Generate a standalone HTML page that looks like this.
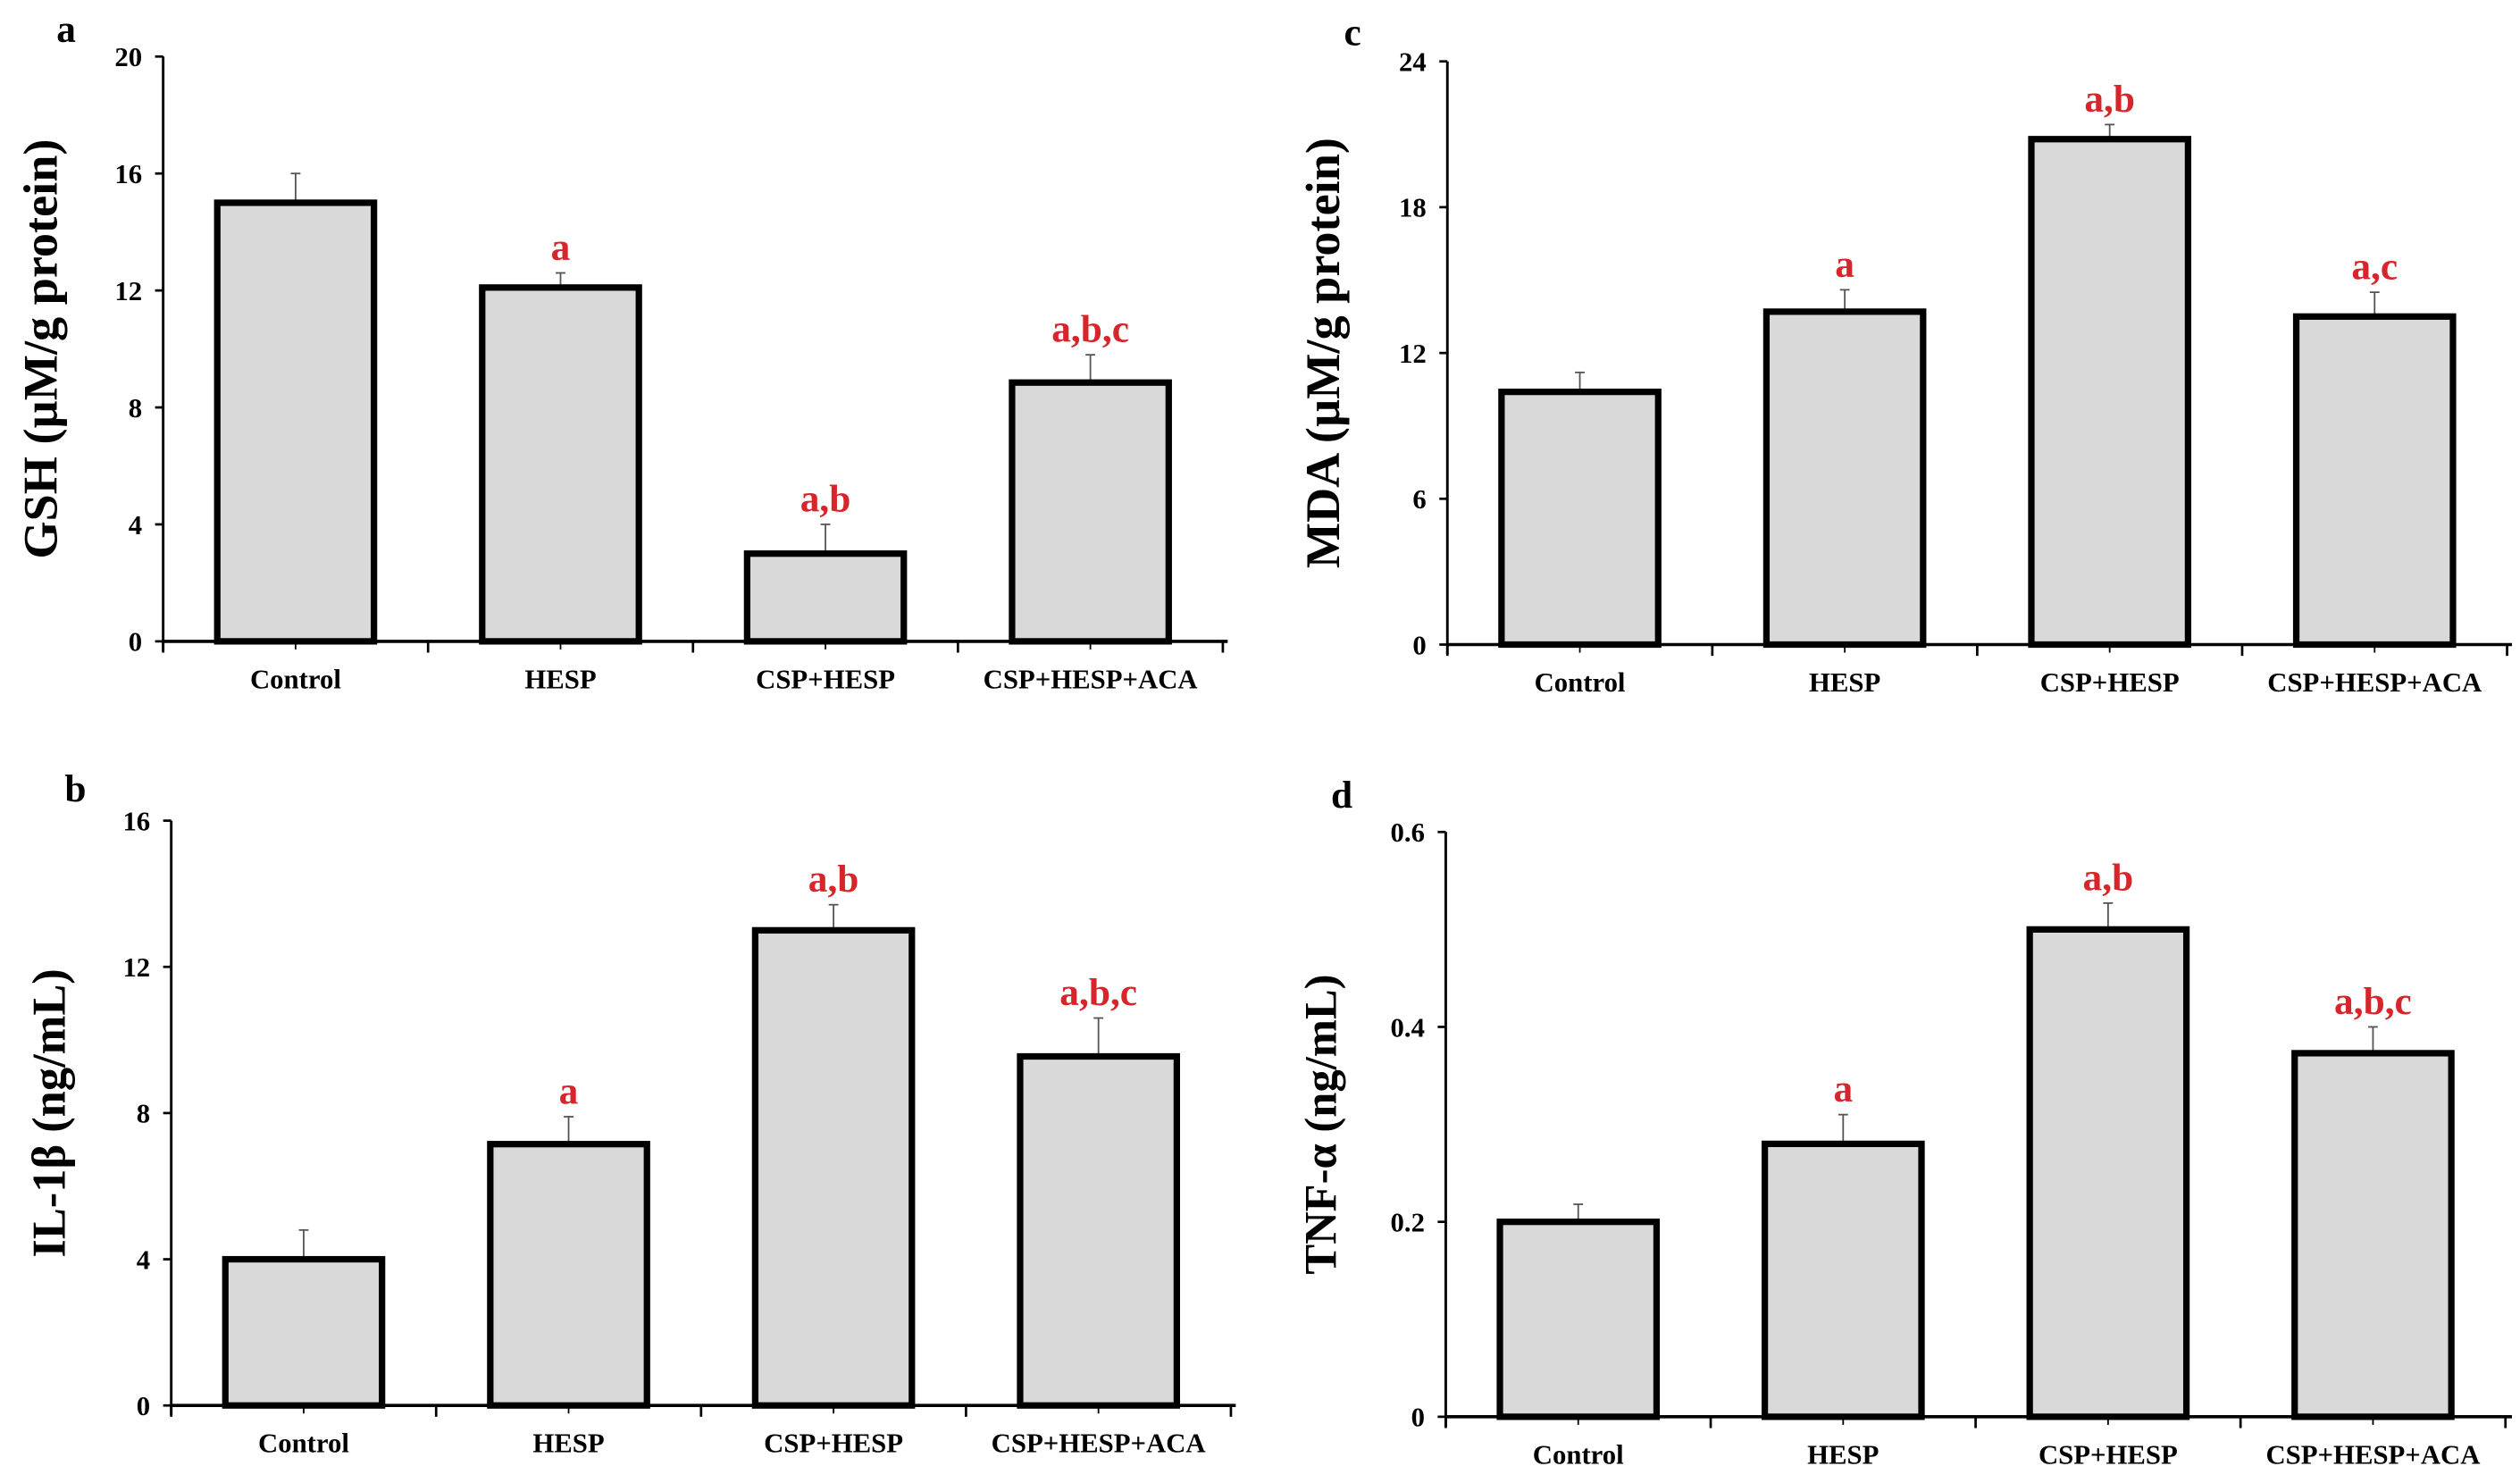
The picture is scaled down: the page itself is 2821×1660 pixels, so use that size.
<!DOCTYPE html>
<html><head><meta charset="utf-8"><style>html,body{margin:0;padding:0;background:#fff}svg{display:block}</style></head>
<body>
<svg id="fig" width="2821" height="1660" viewBox="0 0 1560 918" preserveAspectRatio="none" xmlns="http://www.w3.org/2000/svg" font-family="Liberation Serif, serif" font-weight="bold"></svg>
<script>
const categories = ["Control","HESP","CSP+HESP","CSP+HESP+ACA"];
const gshValues = [15, 12.1, 3, 8.85];
const gshErrors = [1.0, 0.5, 1.0, 0.95];
const gshSig = ["", "a", "a,b", "a,b,c"];
const il1bValues = [4, 7.15, 13, 9.55];
const il1bErrors = [0.8, 0.75, 0.7, 1.05];
const il1bSig = ["", "a", "a,b", "a,b,c"];
const mdaValues = [10.4, 13.7, 20.8, 13.5];
const mdaErrors = [0.8, 0.9, 0.6, 1.0];
const mdaSig = ["", "a", "a,b", "a,c"];
const tnfValues = [0.2, 0.28, 0.5, 0.373];
const tnfErrors = [0.018, 0.03, 0.027, 0.027];
const tnfSig = ["", "a", "a,b", "a,b,c"];
const gshTicks = [0,4,8,12,16,20];
const il1bTicks = [0,4,8,12,16];
const mdaTicks = [0,6,12,18,24];
const tnfTicks = [0,0.2,0.4,0.6];
const tnfTickLabels = ["0","0.2","0.4","0.6"];

const NS="http://www.w3.org/2000/svg";
const svg=document.getElementById('fig');
function mk(tag,attrs,parent,text){const e=document.createElementNS(NS,tag);for(const k in attrs)e.setAttribute(k,attrs[k]);if(text!==undefined)e.textContent=text;parent.appendChild(e);return e;}

function panel(cfg){
  const g=mk('g',{},svg);
  
  
  const x0=cfg.x0,x1=cfg.x1,yTop=cfg.yTop,yBot=cfg.yBot,max=cfg.ticks[cfg.ticks.length-1];
  const yS=v=>yBot-(v/max)*(yBot-yTop);
  const step=164;
  const xC=i=>x0+step*(i+0.5);
  const bw=97;
  const lt=mk('text',{x:cfg.lx,y:cfg.ly,'font-size':24},g,cfg.id);
  
  
  cfg.values.forEach((v,i)=>{
    const top=yS(v+cfg.errors[i]);
    const el=mk('line',{x1:xC(i),x2:xC(i),y1:yS(v),y2:top,stroke:'#555','stroke-width':1},g);
    
    
    const cap=mk('line',{x1:xC(i)-3,x2:xC(i)+3,y1:top,y2:top,stroke:'#555','stroke-width':1},g);
    
    
    const r=mk('rect',{x:xC(i)-bw/2,y:yS(v),width:bw,height:yBot-yS(v),fill:'#d9d9d9',stroke:'#000','stroke-width':4},g);
    
    
    if(cfg.sig[i]){
      const s=mk('text',{x:xC(i),y:top-8,'text-anchor':'middle','font-size':24,fill:'#d7262b'},g,cfg.sig[i]);
      
      
    }
    const cl=mk('text',{x:xC(i),y:yBot+29,'text-anchor':'middle','font-size':17},g,categories[i]);
    
    
  });
  const ya=mk('line',{x1:x0,x2:x0,y1:yTop,y2:yBot+6,stroke:'#000','stroke-width':1.6},g);
  
  
  const xa=mk('line',{x1:x0,x2:x1,y1:yBot,y2:yBot,stroke:'#000','stroke-width':2},g);
  
  
  for(let i=0;i<=categories.length;i++){
    const t=mk('line',{x1:x0+step*i,x2:x0+step*i,y1:yBot,y2:yBot+7,stroke:'#000','stroke-width':1.5},g);
    
    
    if(i<categories.length){
      const t2=mk('line',{x1:xC(i),x2:xC(i),y1:yBot,y2:yBot+5,stroke:'#000','stroke-width':1},g);
      
      
    }
  }
  cfg.ticks.forEach((v,k)=>{
    const t=mk('line',{x1:x0-5,x2:x0,y1:yS(v),y2:yS(v),stroke:'#000','stroke-width':1.5},g);
    
    
    const tl=mk('text',{x:x0-13,y:yS(v)+6,'text-anchor':'end','font-size':17},g,cfg.tickLabels?cfg.tickLabels[k]:String(v));
    
    
  });
  const yt=mk('text',{x:0,y:0,'text-anchor':'middle','font-size':cfg.tfs,transform:`translate(${cfg.tx},${(yTop+yBot)/2}) rotate(-90)`},g,cfg.title);
  
  
}

panel({id:'a',x0:101,x1:760,yTop:35,yBot:397,ticks:gshTicks,values:gshValues,errors:gshErrors,sig:gshSig,title:'GSH (µM/g protein)',tx:35,tfs:30,lx:35,ly:26});
panel({id:'b',x0:106,x1:765,yTop:508,yBot:870,ticks:il1bTicks,values:il1bValues,errors:il1bErrors,sig:il1bSig,title:'IL-1β (ng/mL)',tx:40,tfs:29,lx:40,ly:496});
panel({id:'c',x0:896,x1:1555,yTop:38,yBot:399,ticks:mdaTicks,values:mdaValues,errors:mdaErrors,sig:mdaSig,title:'MDA (µM/g protein)',tx:829,tfs:30,lx:832,ly:28});
panel({id:'d',x0:895,x1:1555,yTop:515,yBot:877,ticks:tnfTicks,tickLabels:tnfTickLabels,values:tnfValues,errors:tnfErrors,sig:tnfSig,title:'TNF-α (ng/mL)',tx:827,tfs:28,lx:824,ly:500});
</script>
</body></html>
